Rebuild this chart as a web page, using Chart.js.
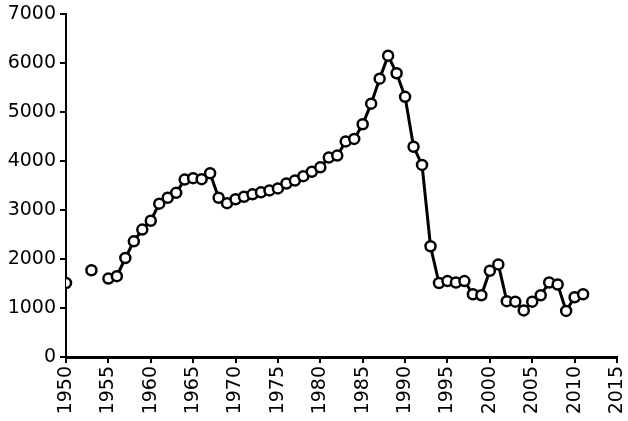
<!DOCTYPE html>
<html>
<head>
<meta charset="utf-8">
<script src="https://cdn.jsdelivr.net/npm/chart.js@4"></script>
<style>
  body { margin: 0; background: #fff; }
</style>
</head>
<body>
<canvas id="chart" width="628" height="421"></canvas>
<script>
// yearly values, null where the year has no point
const years = [1950, 1951, 1952, 1953, 1954, 1955, 1956, 1957, 1958, 1959,
    1960, 1961, 1962, 1963, 1964, 1965, 1966, 1967, 1968, 1969,
    1970, 1971, 1972, 1973, 1974, 1975, 1976, 1977, 1978, 1979,
    1980, 1981, 1982, 1983, 1984, 1985, 1986, 1987, 1988, 1989,
    1990, 1991, 1992, 1993, 1994, 1995, 1996, 1997, 1998, 1999,
    2000, 2001, 2002, 2003, 2004, 2005, 2006, 2007, 2008, 2009,
    2010, 2011];
const values = [1510, null, null, 1770, null, 1600, 1650, 2020, 2360, 2600,
    2780, 3130, 3250, 3350, 3620, 3650, 3630, 3750, 3250, 3140,
    3220, 3270, 3320, 3360, 3400, 3440, 3540, 3600, 3690, 3780,
    3870, 4070, 4110, 4400, 4450, 4750, 5170, 5680, 6150, 5790,
    5310, 4290, 3920, 2260, 1510, 1550, 1520, 1550, 1280, 1260,
    1760, 1890, 1140, 1130, 950, 1130, 1260, 1520, 1480, 940,
    1220, 1280];
const yTicks = [0, 1000, 2000, 3000, 4000, 5000, 6000, 7000];

const points = years.map((yr, i) => ({ x: yr, y: values[i] }));

const ctx = document.getElementById('chart').getContext('2d');
const font = { family: 'DejaVu Sans', size: 19 };

new Chart(ctx, {
    type: 'line',
    data: {
        datasets: [{
            data: points,
            borderColor: '#000',
            borderWidth: 3,
            pointRadius: 5,
            pointBorderWidth: 2.5,
            pointBorderColor: '#000',
            pointBackgroundColor: '#fff',
            spanGaps: false,
            tension: 0
        }]
    },
    options: {
        responsive: false,
        animation: false,
        layout: { padding: { top: 14, right: 11, left: 0, bottom: 0 } },
        plugins: {
            legend: { display: false },
            tooltip: { enabled: false }
        },
        scales: {
            x: {
                type: 'linear',
                min: 1950,
                max: 2015,
                afterFit: s => {
                    s.height = 64;
                    s.paddingLeft = 0;
                    s.paddingRight = 0;
                },
                border: { color: '#000', width: 3 },
                grid: { drawOnChartArea: false, color: '#000', lineWidth: 2, tickLength: 6 },
                ticks: {
                    stepSize: 5,
                    minRotation: 90,
                    maxRotation: 90,
                    color: '#000',
                    font: font,
                    padding: 3,
                    callback: v => String(v)
                }
            },
            y: {
                min: 0,
                max: 7000,
                afterFit: s => {
                    s.width = 66;
                    s.paddingTop = 0;
                    s.paddingBottom = 0;
                },
                afterBuildTicks: s => { s.ticks = yTicks.map(v => ({ value: v })); },
                border: { color: '#000', width: 2 },
                grid: { drawOnChartArea: false, color: '#000', lineWidth: 2, tickLength: 6 },
                ticks: {
                    color: '#000',
                    font: font,
                    padding: 4,
                    callback: v => String(v)
                }
            }
        }
    }
});
</script>
</body>
</html>
